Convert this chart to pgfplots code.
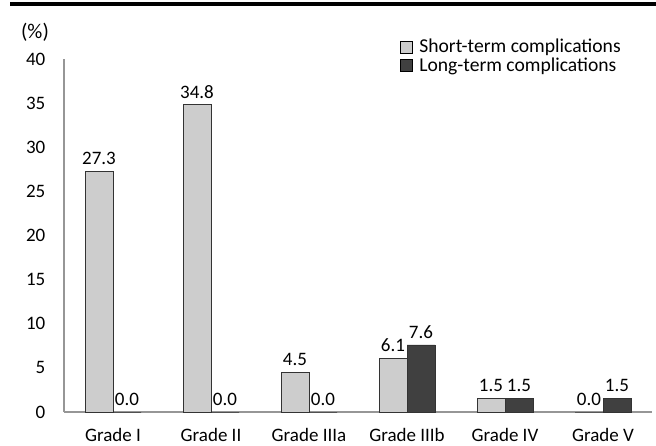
\documentclass[border=0pt]{standalone}
\usepackage{pgfplots}
\pgfplotsset{compat=1.18}
\usepackage{fontspec}
\setmainfont{Carlito}
\definecolor{shortc}{RGB}{205,205,205}
\definecolor{longc}{RGB}{64,64,64}
\definecolor{axisc}{RGB}{150,150,150}

\begin{document}
\fontsize{9.5}{11}\selectfont
\begin{tikzpicture}
\useasboundingbox (0,0) rectangle (328pt,222.5pt);
\draw[line width=1.6pt] (5pt,220.5pt) -- (328pt,220.5pt);
\node at (17.5pt,206.5pt) {\fontsize{10.5}{12}\selectfont(\%)};
\begin{axis}[
    at={(32pt,16.5pt)}, anchor=south west,
    scale only axis,
    width=294pt, height=176.5pt,
    ybar=0pt, bar width=14pt,
    xmin=-0.5, xmax=5.5,
    ymin=0, ymax=40,
    ytick={0,5,...,40},
    xtick=data,
    xticklabels={Grade I, Grade II, Grade IIIa, Grade IIIb, Grade IV, Grade V},
    axis lines=left,
    axis line style={-, axisc, line width=0.6pt},
    major tick length=0pt,
    tick label style={font=\fontsize{9.5}{11}\selectfont},
    /pgf/number format/assume math mode=true,
    yticklabel style={xshift=-6pt},
    xticklabel style={yshift=-5pt},
    nodes near coords,
    nodes near coords style={font=\fontsize{9.5}{11}\selectfont, /pgf/number format/fixed, /pgf/number format/fixed zerofill, /pgf/number format/precision=1, /pgf/number format/assume math mode=true},
    legend cell align=left,
    legend style={at={(0.5665,1.075)}, anchor=north west, draw=none, fill=none,
        font=\fontsize{9.8}{11}\selectfont, row sep=-3pt, inner sep=1pt,
        /tikz/every odd column/.append style={column sep=0pt}},
    legend image code/.code={\draw[#1, draw=black, line width=0.4pt] (0pt,-3pt) rectangle (6pt,3pt); \path (7.5pt,0pt);},
]
\addplot[fill=shortc, draw=black!80, line width=0.4pt] coordinates {
    (0,27.3) (1,34.8) (2,4.5) (3,6.1) (4,1.5) (5,0.0)
};
\addplot[fill=longc, draw=black!80, line width=0.4pt] coordinates {
    (0,0.0) (1,0.0) (2,0.0) (3,7.6) (4,1.5) (5,1.5)
};
\legend{Short-term complications, Long-term complications}
\end{axis}
\end{tikzpicture}
\end{document}
